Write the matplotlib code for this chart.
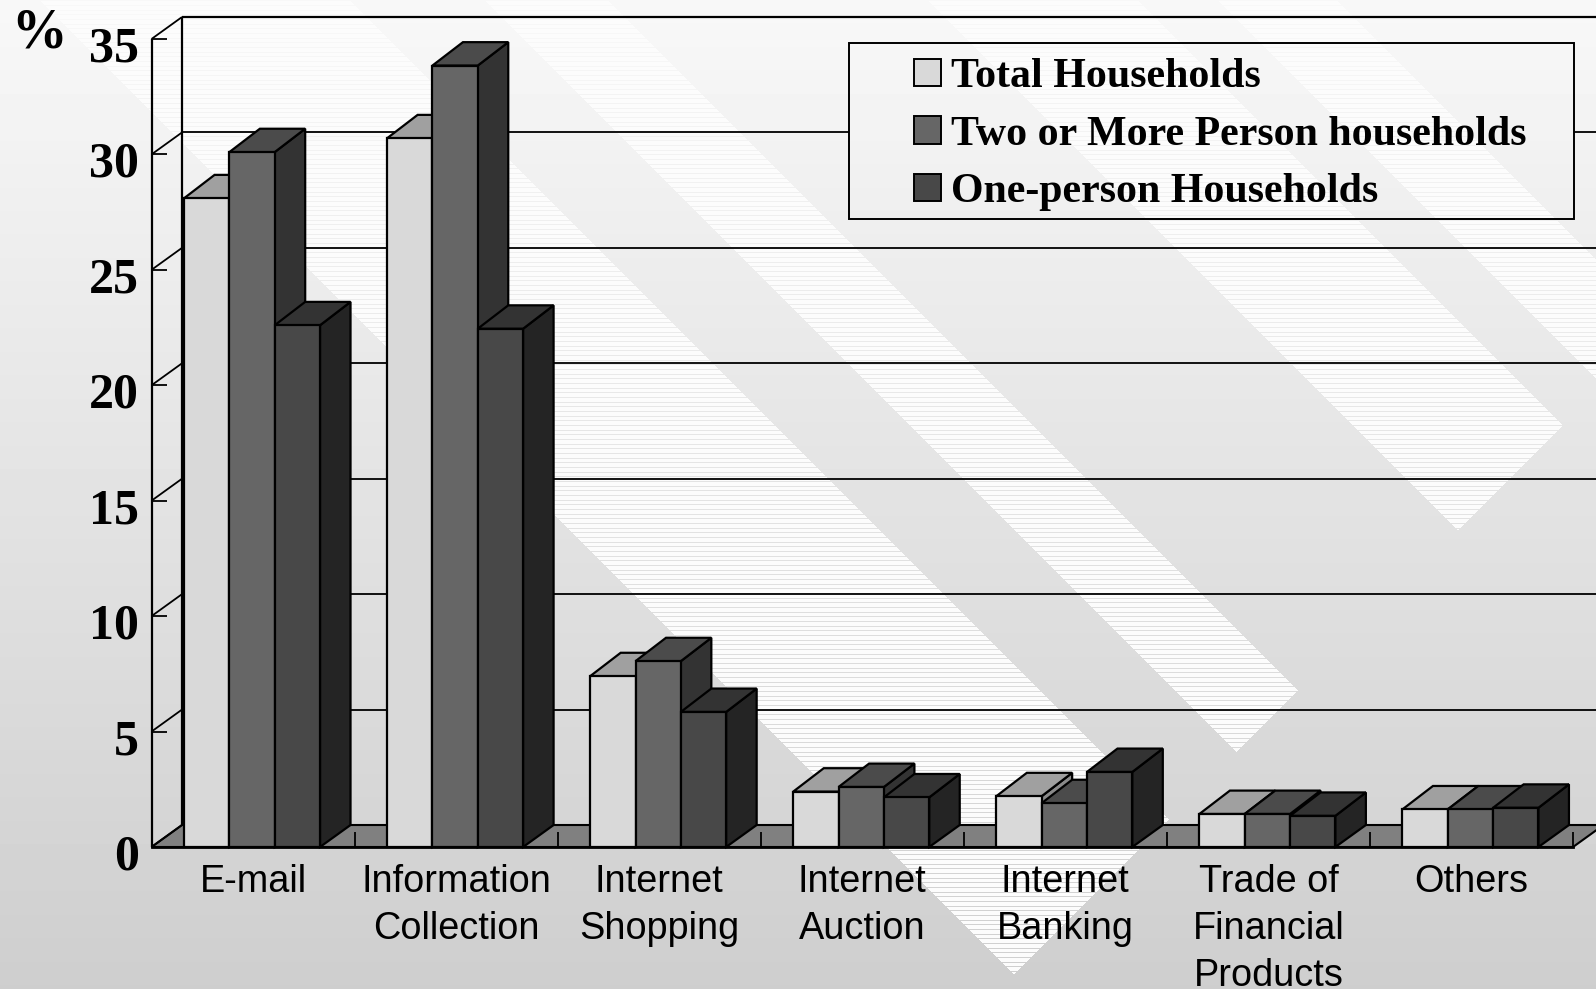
import numpy as np
import matplotlib
matplotlib.use('Agg')
import matplotlib.pyplot as plt
from matplotlib.patches import Patch, Polygon, Rectangle
from matplotlib.transforms import ScaledTranslation

categories = ['E-mail', 'Information\nCollection', 'Internet\nShopping', 'Internet\nAuction',
              'Internet\nBanking', 'Trade of\nFinancial\nProducts', 'Others']
total = [28.1, 30.7, 7.4, 2.4, 2.2, 1.43, 1.63]
two_or_more = [30.1, 33.85, 8.05, 2.6, 1.9, 1.43, 1.63]
one_person = [22.6, 22.45, 5.85, 2.15, 3.25, 1.35, 1.7]
series_names = ['Total Households', 'Two or More Person households', 'One-person Households']
y_ticks = [0, 5, 10, 15, 20, 25, 30, 35]

W, H = 1596, 989
front_colors = ['#d9d9d9', '#666666', '#484848']
top_colors = ['#a0a0a0', '#4b4b4b', '#333333']
side_colors = ['#8a8a8a', '#333333', '#242424']
bar_w = 0.2232
dep_x = 30.5 / 203
dep_y = 22 / 23.09
bar_dep_y = 23.4 / 23.09
legend_left, legend_right = 3.434, 7.007

fig = plt.figure(figsize=(W / 100, H / 100), dpi=100)

# background gradient with the striped diagonal ribbons
yy, xx = np.mgrid[0:H, 0:W]
bg = 248 - 42 * yy / H
d = xx - yy
ribbon = np.zeros_like(bg, dtype=bool)
for a, b in [(40, 350), (485, 608), (928, 1138), (1218, 1337)]:
    ribbon |= (d >= a) & (d < b)
ribbon &= (xx + yy) < 1988
ribbon &= (yy * 3) % 14 >= 3
bg[ribbon] = 252
bg_ax = fig.add_axes([0, 0, 1, 1])
bg_ax.imshow(bg, cmap='gray', vmin=0, vmax=255, aspect='auto', interpolation='nearest')
bg_ax.axis('off')

ax = fig.add_axes([151.5 / W, (H - 847) / H, (1573 - 151.5) / W, (847 - 39) / H])
ax.patch.set_visible(False)
ax.set_xlim(0, 7)
ax.set_ylim(0, 35)
for s in ax.spines.values():
    s.set_visible(False)

# floor
ax.add_patch(Polygon([(0, 0), (7, 0), (7 + dep_x, dep_y), (dep_x, dep_y)], closed=True,
                     fc='#808080', ec='black', lw=1.5, clip_on=False, zorder=1))

# walls and gridlines
line_kw = dict(color='black', clip_on=False, zorder=1.5, solid_capstyle='butt')
ax.plot([0, 0], [0, 35], lw=1.6, **line_kw)
ax.plot([dep_x, dep_x], [dep_y, 35 + dep_y], lw=1.6, **line_kw)
for v in y_ticks:
    ax.plot([0, dep_x], [v, v + dep_y], lw=1.3, **line_kw)
    ax.plot([0, 0.074], [v, v], lw=1.3, **line_kw)
    if v == 0:
        continue
    if v == 30:
        # this one runs behind the legend box
        ax.plot([dep_x, legend_left], [v + dep_y, v + dep_y], lw=1.3, **line_kw)
        ax.plot([legend_right, 7 + dep_x], [v + dep_y, v + dep_y], lw=1.3, **line_kw)
    else:
        ax.plot([dep_x, 7 + dep_x], [v + dep_y, v + dep_y], lw=1.6 if v == 35 else 1.3, **line_kw)
for i in range(1, 8):
    ax.plot([i, i], [0, 0.63], lw=1.3, **line_kw)

# bars, left to right so the later ones cover the earlier ones
z = 2
for c in range(len(categories)):
    for s, values in enumerate([total, two_or_more, one_person]):
        v = values[c]
        x0 = c + 0.495 + (s - 1.5) * bar_w
        x1 = x0 + bar_w
        ax.add_patch(Polygon([(x1, 0), (x1 + dep_x, dep_y), (x1 + dep_x, v + bar_dep_y), (x1, v)], closed=True,
                             fc=side_colors[s], ec='black', lw=1.6, clip_on=False, zorder=z))
        ax.add_patch(Polygon([(x0, v), (x1, v), (x1 + dep_x, v + bar_dep_y), (x0 + dep_x, v + bar_dep_y)], closed=True,
                             fc=top_colors[s], ec='black', lw=1.6, clip_on=False, zorder=z))
        ax.bar(x0, v, width=bar_w, align='edge', color=front_colors[s], edgecolor='black', lw=1.6,
               clip_on=False, zorder=z + 0.1)
        z += 0.2
ax.plot([0, 7], [0, 0], lw=2.0, color='black', clip_on=False, zorder=z)

# tick labels
ax.set_yticks(y_ticks)
ax.set_yticklabels([str(v) for v in y_ticks], family='Liberation Serif', weight='bold', fontsize=36)
ax.tick_params(axis='y', length=0, pad=9)
shift = ScaledTranslation(0, -5 / 100, fig.dpi_scale_trans)
for lab in ax.get_yticklabels():
    lab.set_transform(lab.get_transform() + shift)
ax.set_xticks(np.arange(len(categories)) + 0.5)
ax.set_xticklabels(categories, family='Liberation Sans', fontsize=27.3, linespacing=1.4)
ax.tick_params(axis='x', length=0, pad=12)

fig.text(39.5 / W, 1 - 33 / H, '%', family='Liberation Serif', weight='bold', fontsize=40,
         ha='center', va='center')

# legend: frame is transparent in the original, background shows through
fig.add_artist(Rectangle((848.7 / W, 1 - 218.7 / H), (1574 - 848.7) / W, (218.7 - 43) / H, fill=False,
                         ec='black', lw=1.4, transform=fig.transFigure))
handles = [Patch(facecolor=c, edgecolor='black', lw=1.4) for c in front_colors]
fs = 30.2
ax.legend(handles, series_names, loc='upper left', bbox_to_anchor=(914 / W, 1 - 58 / H),
          bbox_transform=fig.transFigure, frameon=False, borderpad=0, borderaxespad=0,
          handlelength=27 / (fs / 0.72), handleheight=26 / (fs / 0.72), handletextpad=0.25,
          labelspacing=0.47, prop={'family': 'Liberation Serif', 'weight': 'bold', 'size': fs})

fig.savefig('out.png', dpi=100)
